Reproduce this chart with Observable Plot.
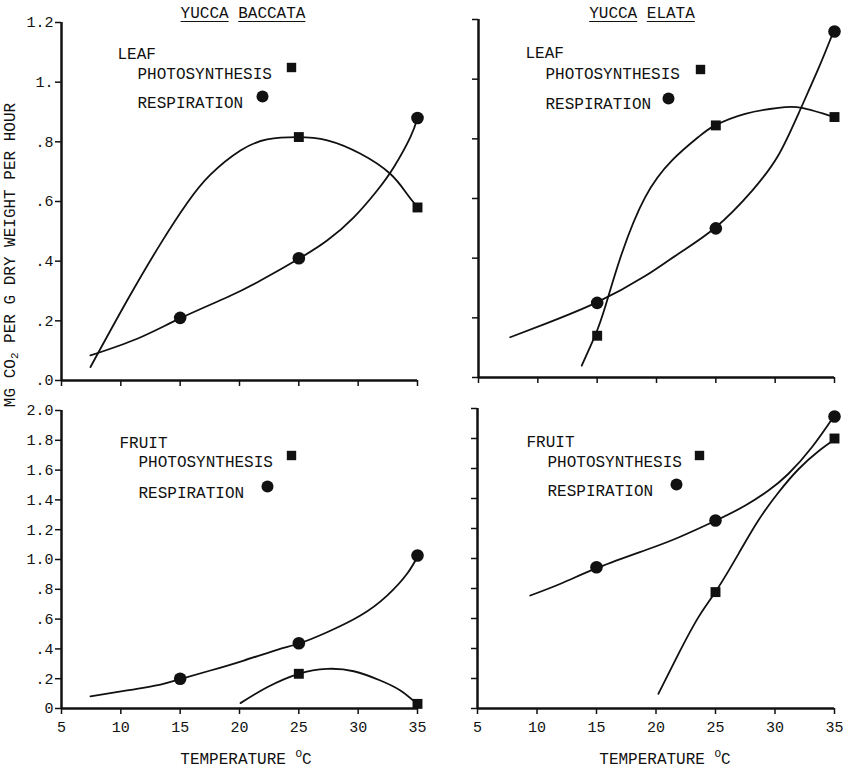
<!DOCTYPE html>
<html><head><meta charset="utf-8">
<script src="https://cdn.jsdelivr.net/npm/d3@7"></script>
<script src="https://cdn.jsdelivr.net/npm/@observablehq/plot@0.6"></script>
<style>
body{margin:0;background:#fff;}
#wrap{position:relative;width:848px;height:769px;font-family:"Liberation Mono","DejaVu Sans Mono",monospace;color:#111;overflow:hidden;}
.p{position:absolute;}
.p svg{overflow:visible;}
.t{position:absolute;font-size:16px;white-space:nowrap;line-height:1;}
.u{text-decoration:underline;text-underline-offset:3px;}
sub{font-size:11px;vertical-align:-3px;}
sup{font-size:11px;vertical-align:7px;}
</style></head><body><div id="wrap"></div>
<script>
// ---------- data (temperature °C, mg CO2 per g dry weight per hour) ----------
const xTicks = [5, 10, 15, 20, 25, 30, 35];
const xTickLabels = ["5", "10", "15", "20", "25", "30", "35"];
const leafTicks = [0, 0.2, 0.4, 0.6, 0.8, 1.0, 1.2];
const leafTickLabels = [".0", ".2", ".4", ".6", ".8", "1.", "1.2"];
const fruitTicks = [0, 0.2, 0.4, 0.6, 0.8, 1.0, 1.2, 1.4, 1.6, 1.8, 2.0];
const fruitTickLabels = ["0", ".2", ".4", ".6", ".8", "1.0", "1.2", "1.4", "1.6", "1.8", "2.0"];

// Yucca baccata – leaf
const bLeafPhotoPts = [[25, 0.816], [35, 0.58]];
const bLeafPhotoCurve = [[7.44, 0.045], [10.53, 0.268], [13.34, 0.458], [15.59, 0.595], [17.55, 0.69], [20.08, 0.771], [22.33, 0.808], [24.86, 0.816], [27.4, 0.805], [30.2, 0.76], [32.7, 0.693], [34.1, 0.626], [35, 0.581]];
const bLeafRespPts = [[15, 0.21], [25, 0.41], [35, 0.88]];
const bLeafRespCurve = [[7.44, 0.084], [11.38, 0.14], [15.03, 0.209], [18.96, 0.279], [21.77, 0.335], [25, 0.408], [27.38, 0.469], [29.63, 0.547], [31.6, 0.637], [33, 0.715], [34.4, 0.816], [35, 0.88]];

// Yucca elata – leaf
const eLeafPhotoPts = [[15, 0.14], [25, 0.845], [35, 0.873]];
const eLeafPhotoCurve = [[13.7, 0.04], [14.83, 0.141], [15.67, 0.236], [17.07, 0.415], [19.04, 0.604], [21.29, 0.727], [23.53, 0.806], [24.94, 0.845], [27.47, 0.884], [30.27, 0.904], [32.24, 0.904], [35, 0.873]];
const eLeafRespPts = [[15, 0.25], [25, 0.50], [35, 1.16]];
const eLeafRespCurve = [[7.67, 0.135], [10.62, 0.18], [14.97, 0.252], [19.04, 0.34], [21.85, 0.415], [24.94, 0.502], [28.03, 0.625], [30.27, 0.745], [31.96, 0.884], [33.64, 1.035], [34.9, 1.158]];

// Yucca baccata – fruit
const bFruitPhotoPts = [[25, 0.233], [35, 0.031]];
const bFruitPhotoCurve = [[20.08, 0.036], [22.33, 0.143], [24.99, 0.233], [27.38, 0.266], [29.63, 0.25], [31.87, 0.188], [33.56, 0.121], [34.97, 0.031]];
const bFruitRespPts = [[15, 0.20], [25, 0.438], [35, 1.027]];
const bFruitRespCurve = [[7.44, 0.081], [10.53, 0.121], [13.34, 0.161], [15.08, 0.199], [17.55, 0.255], [20.36, 0.322], [23.17, 0.394], [25.08, 0.438], [27.38, 0.512], [30.19, 0.624], [32.44, 0.758], [34.12, 0.904], [35.05, 1.027]];

// Yucca elata – fruit
const eFruitPhotoPts = [[25, 0.776], [35, 1.80]];
const eFruitPhotoCurve = [[20.2, 0.098], [21.89, 0.364], [23.57, 0.609], [25.1, 0.79], [26.93, 1.031], [28.61, 1.255], [30.29, 1.44], [31.97, 1.595], [33.65, 1.715], [35.1, 1.798]];
const eFruitRespPts = [[15, 0.942], [25, 1.253], [35, 1.947]];
const eFruitRespCurve = [[9.43, 0.753], [12.08, 0.835], [15.22, 0.942], [19.09, 1.055], [21.89, 1.14], [25.03, 1.253], [27.5, 1.353], [29.45, 1.453], [31.13, 1.565], [33.1, 1.742], [34.94, 1.947]];

// ---------- drawing ----------
const wrap = document.getElementById("wrap");
const FONT = '"Liberation Mono","DejaVu Sans Mono",monospace';

function panel(o) {
  const yMap = new Map(o.yTicks.map((t, i) => [t, o.yLabels[i]]));
  const xMap = new Map(xTicks.map((t, i) => [t, xTickLabels[i]]));
  const L = o.legend;
  const marks = [
    Plot.axisY({ticks: o.yTicks, tickSize: 6, tickPadding: 2, tickFormat: o.showY ? (d => yMap.get(d)) : (() => ""), fontSize: 15, label: null, strokeWidth: 1.5}),
    Plot.axisX({ticks: xTicks, tickSize: 6, tickPadding: 7, tickFormat: o.showX ? (d => xMap.get(d)) : (() => ""), fontSize: 15, label: null, strokeWidth: 1.5}),
    Plot.ruleX([5], {stroke: "#111", strokeWidth: 2.5}),
    Plot.ruleY([0], {stroke: "#111", strokeWidth: 2.5}),
    Plot.line(o.photoCurve, {x: d => d[0], y: d => d[1], curve: "natural", stroke: "#111", strokeWidth: 1.8}),
    Plot.line(o.respCurve, {x: d => d[0], y: d => d[1], curve: "natural", stroke: "#111", strokeWidth: 1.8}),
    Plot.dot(o.photoPts, {x: d => d[0], y: d => d[1], symbol: "square", r: 5.6, fill: "#111", stroke: "none"}),
    Plot.dot(o.respPts, {x: d => d[0], y: d => d[1], symbol: "circle", r: 6.3, fill: "#111", stroke: "none"}),
    Plot.text([o.organ], {frameAnchor: "top-left", textAnchor: "start", dx: L[0][0], dy: L[0][1], fontSize: 16, fill: "#111"}),
    Plot.text(["PHOTOSYNTHESIS"], {frameAnchor: "top-left", textAnchor: "start", dx: L[1][0], dy: L[1][1], fontSize: 16, fill: "#111"}),
    Plot.dot([0], {frameAnchor: "top-left", dx: L[2][0], dy: L[2][1], symbol: "square", r: 5.3, fill: "#111", stroke: "none"}),
    Plot.text(["RESPIRATION"], {frameAnchor: "top-left", textAnchor: "start", dx: L[3][0], dy: L[3][1], fontSize: 16, fill: "#111"}),
    Plot.dot([0], {frameAnchor: "top-left", dx: L[4][0], dy: L[4][1], symbol: "circle", r: 6, fill: "#111", stroke: "none"})
  ];
  const svg = Plot.plot({
    width: 424, height: o.height,
    marginLeft: o.m[0], marginRight: o.m[1], marginTop: o.m[2], marginBottom: o.m[3],
    x: {domain: [5, 35]},
    y: {domain: [0, o.yMax]},
    style: {fontFamily: FONT, color: "#111", background: "transparent", overflow: "visible"},
    marks
  });
  const d = document.createElement("div");
  d.className = "p";
  d.style.left = o.left + "px";
  d.style.top = o.top + "px";
  d.appendChild(svg);
  wrap.appendChild(d);
}

panel({left: 0, top: 0, height: 395, m: [61, 7, 22, 15], yMax: 1.2, yTicks: leafTicks, yLabels: leafTickLabels, showY: true, showX: false,
  organ: "LEAF", legend: [[56, 25], [76, 45], [230, 45], [76, 74], [201, 74]],
  photoCurve: bLeafPhotoCurve, photoPts: bLeafPhotoPts, respCurve: bLeafRespCurve, respPts: bLeafRespPts});
panel({left: 424, top: 0, height: 395, m: [54, 14, 19, 18], yMax: 1.2, yTicks: leafTicks, yLabels: leafTickLabels, showY: false, showX: false,
  organ: "LEAF", legend: [[47, 27], [67, 48], [222, 50], [67, 78], [190, 79]],
  photoCurve: eLeafPhotoCurve, photoPts: eLeafPhotoPts, respCurve: eLeafRespCurve, respPts: eLeafRespPts});
panel({left: 0, top: 395, height: 374, m: [61, 7, 15, 61], yMax: 2.0, yTicks: fruitTicks, yLabels: fruitTickLabels, showY: true, showX: true,
  organ: "FRUIT", legend: [[58, 26], [77, 45], [230, 45], [77, 76], [206, 76]],
  photoCurve: bFruitPhotoCurve, photoPts: bFruitPhotoPts, respCurve: bFruitRespCurve, respPts: bFruitRespPts});
panel({left: 424, top: 395, height: 374, m: [53, 14, 13, 61], yMax: 2.0, yTicks: fruitTicks, yLabels: fruitTickLabels, showY: false, showX: true,
  organ: "FRUIT", legend: [[49, 27], [70, 47], [222, 47], [70, 76], [199, 76]],
  photoCurve: eFruitPhotoCurve, photoPts: eFruitPhotoPts, respCurve: eFruitRespCurve, respPts: eFruitRespPts});

function label(html, x, y, extra) {
  const d = document.createElement("div");
  d.className = "t";
  d.innerHTML = html;
  d.style.left = x + "px";
  d.style.top = y + "px";
  d.style.transform = "translate(-50%,-50%)" + (extra || "");
  wrap.appendChild(d);
}
label('<span class="u">YUCCA</span> <span class="u">BACCATA</span>', 243, 14);
label('<span class="u">YUCCA</span> <span class="u">ELATA</span>', 642, 14);
label('MG CO<sub>2</sub> PER G DRY WEIGHT PER HOUR', 12, 255, " rotate(-90deg)");
label('TEMPERATURE <sup>O</sup>C', 246, 758);
label('TEMPERATURE <sup>O</sup>C', 665, 758);
</script>
</body></html>
